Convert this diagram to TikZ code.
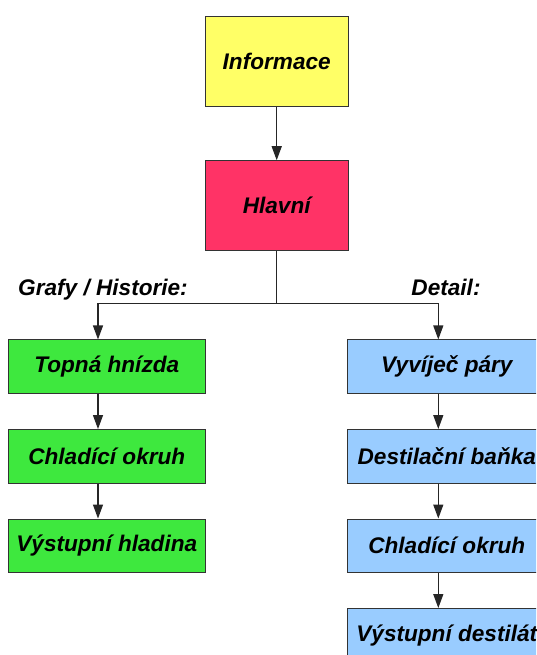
\documentclass[tikz,border=0pt]{standalone}
\usepackage{fontspec}
\setmainfont{Liberation Sans}
\usetikzlibrary{arrows.meta}
\definecolor{infoyellow}{RGB}{255,255,102}
\definecolor{mainred}{RGB}{255,51,102}
\definecolor{grafgreen}{RGB}{62,232,62}
\definecolor{detailblue}{RGB}{153,204,255}
\tikzset{
  boxfont/.style={font=\fontsize{22.6}{26}\selectfont\bfseries\itshape},
  bigbox/.style={boxfont, draw=black!80, line width=1pt, inner sep=0pt, minimum width=143pt, minimum height=89.5pt},
  smallbox/.style={bigbox, minimum width=196.5pt, minimum height=53.5pt},
  conn/.style={draw=black!85, line width=1.2pt, -{Triangle[length=14pt,width=10pt]}},
  heading/.style={boxfont, anchor=base}
}

\begin{document}
\begin{tikzpicture}[x=1pt,y=1pt]
  \useasboundingbox (0,0) rectangle (536,-655);
  \clip (0,0) rectangle (536,-655);
  % top
  \node[bigbox, fill=infoyellow] (info) at (276.7,-61.7) {Informace};
  \node[bigbox, fill=mainred] (hlavni) at (276.7,-205.5) {Hlavní};
  \coordinate (split) at (276.7,-303.3);
  \coordinate (colL) at (98,-303.3);
  \coordinate (colR) at (438.3,-303.3);
  \node[heading] (grafy) at (103,-295) {Grafy / Historie:};
  \node[heading] (detail) at (446,-295) {Detail:};
  % left column
  \node[smallbox, fill=grafgreen] (topna) at (106.8,-366.7) {Topná hnízda};
  \node[smallbox, fill=grafgreen] (chladL) at (106.8,-456.3) {Chladící okruh};
  \node[smallbox, fill=grafgreen] (hladina) at (106.8,-545.8) {Výstupní hladina};
  % right column
  \node[smallbox, minimum width=199pt, fill=detailblue] (vyvijec) at (446.8,-366.7) {Vyvíječ páry};
  \node[smallbox, minimum width=199pt, fill=detailblue] (banka) at (446.8,-456.3) {Destilační baňka};
  \node[smallbox, minimum width=199pt, fill=detailblue] (chladR) at (446.8,-545.8) {Chladící okruh};
  \node[smallbox, minimum width=199pt, fill=detailblue] (destilat) at (446.8,-635.3) {Výstupní destilát};
  % connectors
  \draw[conn] (info) -- (hlavni);
  \draw[draw=black!85, line width=1.2pt] (hlavni.south) -- (split);
  \draw[conn] (split) -| (topna.north -| colL);
  \draw[conn] (split) -| (vyvijec.north -| colR);
  \draw[conn] (topna.south -| colL) -- (chladL.north -| colL);
  \draw[conn] (chladL.south -| colL) -- (hladina.north -| colL);
  \draw[conn] (vyvijec.south -| colR) -- (banka.north -| colR);
  \draw[conn] (banka.south -| colR) -- (chladR.north -| colR);
  \draw[conn] (chladR.south -| colR) -- (destilat.north -| colR);
\end{tikzpicture}
\end{document}
